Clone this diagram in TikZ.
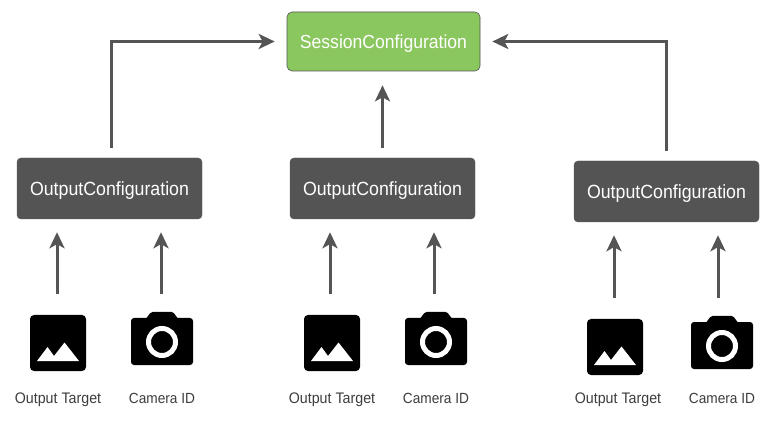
\documentclass[tikz,border=0pt]{standalone}
\usepackage{fontspec}
\setmainfont[FakeStretch=0.93]{Liberation Sans}
\usetikzlibrary{arrows.meta}
\definecolor{grayBox}{HTML}{545454}
\definecolor{greenBox}{HTML}{8BC75F}
\definecolor{lineGray}{HTML}{555555}
\definecolor{labelGray}{HTML}{3C3C3C}
\tikzset{
  conf/.style={draw=grayBox,fill=grayBox,rounded corners=4pt,minimum width=185pt,minimum height=61pt,inner sep=0pt,text=white,font=\fontsize{19.1}{20}\selectfont},
  sess/.style={fill=greenBox,draw=grayBox,line width=.6pt,rounded corners=5pt,minimum width=193pt,minimum height=59pt,inner sep=0pt,text=white,font=\fontsize{18.9}{20}\selectfont},
  conn/.style={draw=lineGray,line width=3pt,-{Stealth[length=16pt,width=15pt,inset=4pt]}},
  lbl/.style={text=labelGray,font=\fontsize{15.3}{16}\selectfont,inner sep=0pt,anchor=base},
  lblb/.style={text=labelGray,font=\fontsize{14.7}{16}\selectfont,inner sep=0pt,anchor=base},
  imgicon/.style={fill=black,rounded corners=4pt,minimum width=56pt,minimum height=56pt,inner sep=0pt},
  camhit/.style={minimum width=62pt,minimum height=56pt,inner sep=0pt},
}
\newcommand{\lowered}[1]{\raisebox{-7pt}[0pt][0pt]{#1}}
\newcommand{\myicons}[7]{%
  % #1 suffix, #2 image x, #3 camera x, #4 image y, #5 conf node, #6 #7 arrow x offsets
  \node[imgicon] (img#1) at (#2,#4) {};
  \fill[white] ([shift={(-21,18)}]img#1.center) -- ++(10.5,-14) -- ++(6.5,9) -- ++(10.5,-13.5) -- ++(14.5,18.5) -- cycle;
  \node[camhit] (cam#1) at (#3,#4-3) {};
  \fill[black,rounded corners=3pt] ([shift={(-31,-22)}]cam#1.center) rectangle ([shift={(31,25)}]cam#1.center);
  \fill[black,rounded corners=1.5pt] ([shift={(-17,-20)}]cam#1.center) -- ([shift={(-11,-28)}]cam#1.center) -- ([shift={(11,-28)}]cam#1.center) -- ([shift={(17,-20)}]cam#1.center) -- cycle;
  \draw[white,line width=5pt] ([shift={(0,2)}]cam#1.center) circle (13.5pt);
  \draw[conn,shorten <=21pt,shorten >=13pt] ([xshift=#6]img#1.north) -- ([xshift=#6]img#1.north |- #5.south);
  \draw[conn,shorten <=18pt,shorten >=13pt] ([xshift=#7]cam#1.north) -- ([xshift=#7]cam#1.north |- #5.south);
}
\begin{document}
\begin{tikzpicture}[x=1pt,y=-1pt]
\useasboundingbox (0,0) rectangle (773,427);
\node[sess] (s) at (383.5,41.5) {\lowered{SessionConfiguration}};
\node[conf] (c1) at (109.5,188.5) {\lowered{OutputConfiguration}};
\node[conf] (c2) at (382.5,188.5) {\lowered{OutputConfiguration}};
\node[conf] (c3) at (666.5,191.5) {\lowered{OutputConfiguration}};
\draw[conn,shorten <=10pt,shorten >=12pt] ([xshift=1.5pt]c1.north) |- (s.west);
\draw[conn,shorten <=10pt,shorten >=14pt] (c2.north) -- (c2.north |- s.south);
\draw[conn,shorten <=10pt,shorten >=12pt] (c3.north) |- (s.east);
\myicons{a}{58}{162}{343}{c1}{-1pt}{-1pt}
\myicons{b}{332}{436}{343}{c2}{-2pt}{-2pt}
\myicons{c}{615}{722}{347}{c3}{-1pt}{-4pt}
\node[lbl] (la) at (58,403) {Output Target};
\node[lblb] (lb) at (162,403) {Camera ID};
\node[lbl] (lc) at (332,403) {Output Target};
\node[lblb] (ld) at (436,403) {Camera ID};
\node[lbl] (le) at (618,403) {Output Target};
\node[lblb] (lf) at (722,403) {Camera ID};
\end{tikzpicture}
\end{document}
